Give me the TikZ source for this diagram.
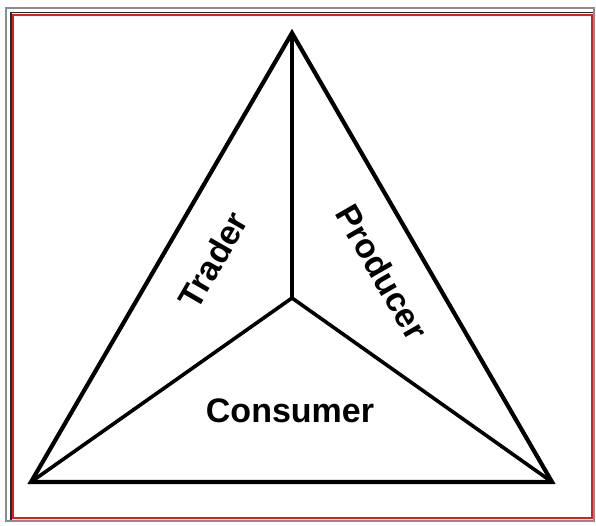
\documentclass[tikz,border=0pt]{standalone}
\usepackage{fontspec}
\setmainfont{Liberation Sans}
\usepackage{xcolor}
\usepackage{tikz}
\usetikzlibrary{positioning, calc}
\definecolor{framegray}{RGB}{140, 140, 140}
\definecolor{framered}{RGB}{220, 30, 30}
\definecolor{framedark}{RGB}{40, 40, 40}

\begin{document}
\begin{tikzpicture}[
    x=1pt, y=-1pt,
    edge/.style={draw=black, line width=4.2pt, line join=miter},
    spoke/.style={draw=black, line width=3.6pt},
    label/.style={font=\fontsize{34}{36}\selectfont\bfseries, inner sep=0pt}
]
    \useasboundingbox (0,0) rectangle (596,526);
    % frame
    \draw[framegray, line width=1.6pt] (6,8) rectangle (594,521);
    \draw[framedark, line width=1.4pt] (11,520) -- (11,12.5) -- (593,12.5);
    \draw[framered, line width=1.4pt] (13,15) rectangle (592,518);

    \coordinate (apex) at (292,33);
    \coordinate (left) at (31,482);
    \coordinate (right) at (552,482);
    \coordinate (mid) at (292,298);

    \draw[edge] (apex) -- (right) -- (left) -- cycle;
    \draw[spoke] (apex) -- (mid);
    \draw[spoke] (left) -- (mid) -- (right);

    \node[label, rotate=60] (trader) at (213,260) {Trader};
    \node[label, rotate=-60] (producer) at (382,272) {Producer};
    \node[label] (consumer) at (290,411) {Consumer};
\end{tikzpicture}
\end{document}
